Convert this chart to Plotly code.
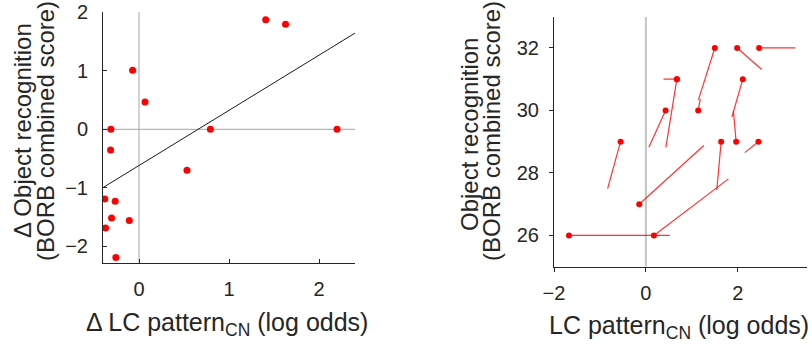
import numpy as np
import plotly.graph_objects as go

# ---------------- data ----------------
# Left panel: change scores
d_lc = [1.408, 1.628, -0.071, 0.067, -0.313, 0.793, 2.200, -0.316, 0.533,
        -0.380, -0.265, -0.305, -0.108, -0.372, -0.257]
d_obj = [1.874, 1.794, 1.010, 0.465, 0.000, 0.000, 0.000, -0.353, -0.698,
         -1.190, -1.230, -1.516, -1.560, -1.687, -2.190]

# Right panel: marker point and the other end of each subject's segment
lc_a = [-1.674, 0.174, -0.145, -0.551, 0.428, 0.674, 0.674, 1.138, 1.500,
        1.986, 2.464, 2.109, 1.964, 1.638, 2.449]
obj_a = [26, 26, 27, 29, 30, 31, 31, 30, 32, 32, 32, 31, 29, 29, 29]
lc_b = [0.522, 1.797, 1.261, -0.833, 0.065, 0.384, 0.435, 1.185, 1.143,
        2.522, 3.254, 1.872, 1.905, 1.543, 2.152]
obj_b = [26.00, 27.81, 28.88, 27.50, 28.82, 31.00, 28.82, 30.37, 30.34,
         31.31, 32.00, 29.79, 29.98, 27.45, 28.65]

left_xticks = [0, 1, 2]
left_yticks = [-2, -1, 0, 1, 2]
right_xticks = [-2, 0, 2]
right_yticks = [26, 28, 30, 32]

left_xrange = [-0.4, 2.4]
left_yrange = [-2.29, 2.005]
right_xrange = [-2.0, 3.5]
right_yrange = [25.0, 33.0]

# ---------------- figure ----------------
W, H = 812, 351
FONT = "Liberation Sans, Arial, sans-serif"
AX = "#262626"

fig = go.Figure()

# Left panel reference lines
fig.add_trace(go.Scatter(x=left_xrange, y=[0, 0], mode="lines",
                         line=dict(color="#a6a6a6", width=1),
                         xaxis="x", yaxis="y", hoverinfo="skip"))
fig.add_trace(go.Scatter(x=[0, 0], y=left_yrange, mode="lines",
                         line=dict(color="#a6a6a6", width=1),
                         xaxis="x", yaxis="y", hoverinfo="skip"))
# OLS fit line
slope, icpt = np.polyfit(d_lc, d_obj, 1)
fx = np.array(left_xrange)
fig.add_trace(go.Scatter(x=fx, y=slope * fx + icpt, mode="lines",
                         line=dict(color="#1a1a1a", width=1),
                         xaxis="x", yaxis="y"))
fig.add_trace(go.Scatter(x=d_lc, y=d_obj, mode="markers",
                         marker=dict(color="#ff0000", size=7),
                         xaxis="x", yaxis="y"))

# Right panel
fig.add_trace(go.Scatter(x=[0, 0], y=right_yrange, mode="lines",
                         line=dict(color="#c4c4c4", width=2),
                         xaxis="x2", yaxis="y2", hoverinfo="skip"))
sx, sy = [], []
for xa, ya, xb, yb in zip(lc_a, obj_a, lc_b, obj_b):
    sx += [xa, xb, None]
    sy += [ya, yb, None]
fig.add_trace(go.Scatter(x=sx, y=sy, mode="lines",
                         line=dict(color="rgba(255,0,0,0.8)", width=1.2),
                         xaxis="x2", yaxis="y2"))
fig.add_trace(go.Scatter(x=lc_a, y=obj_a, mode="markers",
                         marker=dict(color="#ff0000", size=6),
                         xaxis="x2", yaxis="y2"))

def px_x(p):
    return min(max(p / W, 0.0), 1.0)

def px_y(p):
    return min(max(1 - p / H, 0.0), 1.0)

axis_common = dict(showgrid=False, zeroline=False, showline=True,
                   linecolor=AX, linewidth=1, tickcolor=AX,
                   tickfont=dict(family=FONT, size=20, color=AX),
                   ticklabeloverflow="allow",
                   mirror=False, automargin=False)

fig.update_layout(
    template="none",
    width=W, height=H,
    margin=dict(l=0, r=0, t=0, b=0, pad=0),
    paper_bgcolor="white", plot_bgcolor="white",
    showlegend=False,
    xaxis=dict(domain=[px_x(103), px_x(355)], range=left_xrange,
               tickvals=left_xticks, ticks="inside", ticklen=4,
               ticklabelstandoff=8,
               anchor="y", **axis_common),
    yaxis=dict(domain=[px_y(263.3), px_y(12)], range=left_yrange,
               tickvals=left_yticks, ticks="inside", ticklen=4,
               ticklabelstandoff=10,
               anchor="x", **axis_common),
    xaxis2=dict(domain=[px_x(554), px_x(806.7)], range=right_xrange,
                tickvals=right_xticks, ticks="outside", ticklen=4,
                ticklabelstandoff=4,
                anchor="y2", **axis_common),
    yaxis2=dict(domain=[px_y(266.7), px_y(16.7)], range=right_yrange,
                tickvals=right_yticks, ticks="outside", ticklen=4,
                ticklabelstandoff=6,
                anchor="x2", **axis_common),
)

title_font = dict(family=FONT, size=24, color=AX)

def rot_title(text, xc, yc):
    fig.add_annotation(text=text, xref="paper", yref="paper",
                       x=px_x(xc), y=px_y(yc), xanchor="center",
                       yanchor="middle", textangle=-90, showarrow=False,
                       font=title_font)

rot_title("Δ Object recognition", 23, 131)
rot_title("(BORB combined score)", 46, 131)
rot_title("Object recognition", 469, 135)
rot_title("(BORB combined score)", 492, 131)

fig.add_annotation(text="Δ LC pattern<sub>CN</sub> (log odds)",
                   xref="paper", yref="paper", x=px_x(227), y=px_y(306),
                   xanchor="center", yanchor="top",
                   showarrow=False, font=dict(family=FONT, size=25, color=AX))
fig.add_annotation(text="LC pattern<sub>CN</sub> (log odds)",
                   xref="paper", yref="paper", x=px_x(679), y=px_y(309),
                   xanchor="center", yanchor="top",
                   showarrow=False, font=dict(family=FONT, size=25, color=AX))

# let the figure fill the browser window exactly (no default body margin)
fig.write_html("out.html", config={"displayModeBar": False},
               post_script="document.body.style.margin='0';")
